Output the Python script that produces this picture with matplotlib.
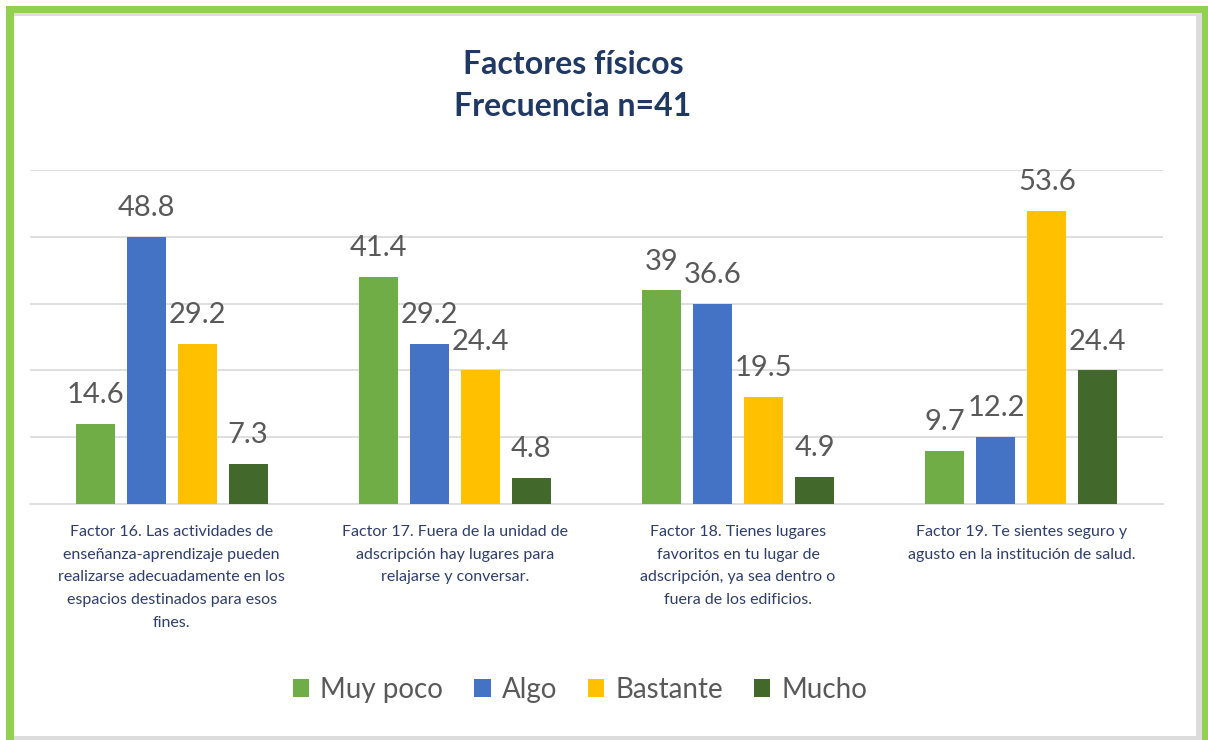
import matplotlib
matplotlib.use("Agg")
import matplotlib.pyplot as plt
from matplotlib import font_manager
from matplotlib.patches import Rectangle
import numpy as np

# ---- data ----
categories = [
    "Factor 16. Las actividades de\nenseñanza-aprendizaje pueden\nrealizarse adecuadamente en los\nespacios destinados para esos\nfines.",
    "Factor 17. Fuera de la unidad de\nadscripción hay lugares para\nrelajarse y conversar.",
    "Factor 18. Tienes lugares\nfavoritos en tu lugar de\nadscripción, ya sea dentro o\nfuera de los edificios.",
    "Factor 19. Te sientes seguro y\nagusto en la institución de salud.",
]
series_names = ["Muy poco", "Algo", "Bastante", "Mucho"]
muy_poco = [14.6, 41.4, 39, 9.7]
algo = [48.8, 29.2, 36.6, 12.2]
bastante = [29.2, 24.4, 19.5, 53.6]
mucho = [7.3, 4.8, 4.9, 24.4]
label_text = [["14.6", "41.4", "39", "9.7"],
              ["48.8", "29.2", "36.6", "12.2"],
              ["29.2", "24.4", "19.5", "53.6"],
              ["7.3", "4.8", "4.9", "24.4"]]
title_lines = ["Factores físicos", "Frecuencia n=41"]

colors = ["#70AD47", "#4472C4", "#FFC000", "#43682B"]

available = {f.name for f in font_manager.fontManager.ttflist}
def pick(*names):
    for n in names:
        if n in available:
            return n
    return "DejaVu Sans"
FONT = pick("Lato", "Open Sans", "DejaVu Sans")
plt.rcParams["font.family"] = [FONT, "DejaVu Sans"]

W, H = 1208, 740
fig = plt.figure(figsize=(W / 100, H / 100), dpi=100)
fig.patch.set_facecolor("white")

def px_rect(x0, y0, x1, y1, color):
    fig.patches.append(Rectangle((x0 / W, 1 - y1 / H), (x1 - x0) / W, (y1 - y0) / H,
                                 transform=fig.transFigure, facecolor=color,
                                 edgecolor="none", zorder=0))

# frame: shadows then green border
px_rect(14, 13, 1201, 16, "#DCDCDC")
px_rect(1196, 13, 1202, 740, "#DCDCDC")
px_rect(14, 736, 1202, 740, "#DCDCDC")
px_rect(6, 6, 1208, 13, "#92D050")
px_rect(6, 6, 14, 740, "#92D050")
px_rect(1202, 6, 1208, 740, "#92D050")

ax = fig.add_axes([30 / W, 1 - 504 / H, (1163 - 30) / W, (504 - 170) / H])
ax.set_facecolor("none")

x = np.arange(len(categories))
all_series = [muy_poco, algo, bastante, mucho]
width = 0.138
offsets = [-0.27, -0.09, 0.09, 0.27]
for i, (vals, name) in enumerate(zip(all_series, series_names)):
    bars = ax.bar(x + offsets[i], vals, width, color=colors[i], label=name, zorder=3)
    for b, t in zip(bars, label_text[i]):
        ax.annotate(t, (b.get_x() + b.get_width() / 2, b.get_height()),
                    xytext=(0, 15), textcoords="offset points",
                    ha="center", va="baseline", fontsize=21, color="#595959", zorder=4)

ax.set_xlim(-0.5, 3.5)
ax.set_ylim(0, 61)
ax.set_yticks([12.2, 24.4, 36.6, 48.8, 61])
ax.yaxis.grid(True, color="#D9D9D9", linewidth=1.2, zorder=0)
ax.tick_params(axis="y", length=0, labelleft=False)
ax.tick_params(axis="x", length=0, pad=15)
for s in ["top", "right", "left"]:
    ax.spines[s].set_visible(False)
ax.spines["bottom"].set_color("#D9D9D9")
ax.spines["bottom"].set_linewidth(1.2)
ax.set_xticks(x)
ax.set_xticklabels(categories, fontsize=11.5, color="#2E3D6B", linespacing=1.8,
                   multialignment="center", va="top")

fig.text(573 / W, 1 - 64 / H, title_lines[0], ha="center", va="center",
         fontsize=23, fontweight="bold", color="#1F3864")
fig.text(573 / W, 1 - 106 / H, title_lines[1], ha="center", va="center",
         fontsize=23, fontweight="bold", color="#1F3864")

fig.legend(loc="center", bbox_to_anchor=(580 / W, 1 - 690 / H), ncol=4, frameon=False,
           fontsize=20, labelcolor="#595959", handlelength=0.6, handleheight=0.6,
           handletextpad=0.4, columnspacing=1.1)

fig.savefig("out.png", dpi=100, facecolor="white")
